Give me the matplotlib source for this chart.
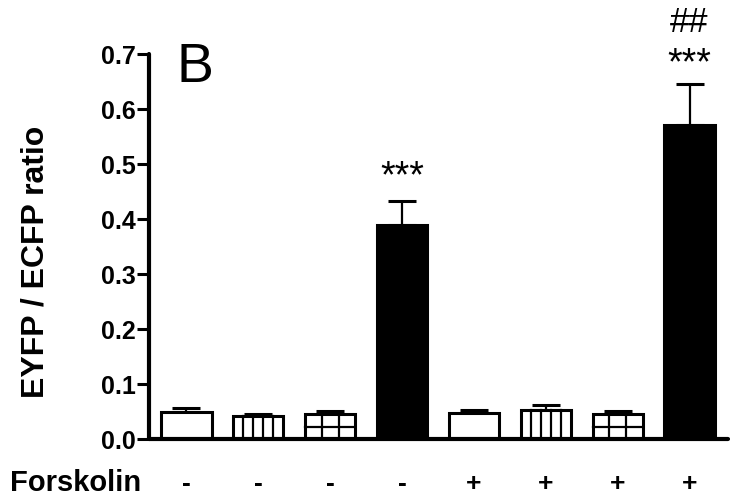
import matplotlib.pyplot as plt
import numpy as np

plt.rcParams['font.family'] = ['Liberation Sans', 'DejaVu Sans']

means = [0.050, 0.043, 0.046, 0.390, 0.048, 0.054, 0.046, 0.571]
errors = [0.007, 0.004, 0.006, 0.043, 0.006, 0.009, 0.006, 0.074]
forskolin = ['-', '-', '-', '-', '+', '+', '+', '+']
fills = ['white', 'white', 'white', 'black', 'white', 'white', 'white', 'black']
patterns = ['', 'vert', 'grid', '', '', 'vert', 'grid', '']

x = np.arange(len(means))
width = 0.70

fig = plt.figure(figsize=(7.31, 4.97), dpi=100)
ax = fig.add_axes([0.2038, 0.1157, 0.7921, 0.7756])

ax.bar(x, means, width, color=fills, edgecolor='black', linewidth=2.2, zorder=2)
ax.errorbar(x, means, yerr=[np.zeros(len(errors)), errors], fmt='none',
            ecolor='black', elinewidth=1.6, capsize=10, capthick=2.2, zorder=1)

# inner hatch lines
for xi, h, p in zip(x, means, patterns):
    left = xi - width / 2
    if p == 'vert':
        for k in range(1, 5):
            ax.plot([left + k * width / 5] * 2, [0, h], color='black', lw=1.6, zorder=3)
    elif p == 'grid':
        for k in range(1, 3):
            ax.plot([left + k * width / 3] * 2, [0, h], color='black', lw=1.6, zorder=3)
        ax.plot([left, left + width], [h / 2, h / 2], color='black', lw=1.6, zorder=3)

ax.set_xlim(-0.52, 7.535)
ax.set_ylim(0, 0.7)
ax.set_yticks(np.arange(0, 0.71, 0.1))
ax.set_yticklabels(['%.1f' % v for v in np.arange(0, 0.71, 0.1)], fontsize=18, fontweight='bold')
ax.set_xticks([])
ax.tick_params(axis='y', length=8.5, width=2.2, pad=1)

for s in ['top', 'right']:
    ax.spines[s].set_visible(False)
for s in ['left', 'bottom']:
    ax.spines[s].set_linewidth(3)
    ax.spines[s].set_capstyle('round')
    ax.spines[s].set_zorder(4)

# significance marks
ax.text(3, 0.476, '***', ha='center', va='center', fontsize=27)
ax.text(7, 0.682, '***', ha='center', va='center', fontsize=27, clip_on=False)
ax.text(7, 0.757, '##', ha='center', va='center', fontsize=25, clip_on=False)

ax.text(0.125, 0.675, 'B', fontsize=40, va='center', ha='center',
        transform=ax.transData)

for xi, s in zip(x, forskolin):
    ax.text(xi, -0.115, s, ha='center', va='center', fontsize=19, fontweight='bold',
            transform=ax.get_xaxis_transform(), clip_on=False)

fig.text(10 / 731, 1 - 483 / 497, 'Forskolin', ha='left', va='center',
         fontsize=21, fontweight='bold')
fig.text(36 / 731, 1 - 262 / 497, 'EYFP / ECFP ratio', rotation=90,
         ha='center', va='center', fontsize=23, fontweight='bold')

fig.savefig('out.png', dpi=100)
